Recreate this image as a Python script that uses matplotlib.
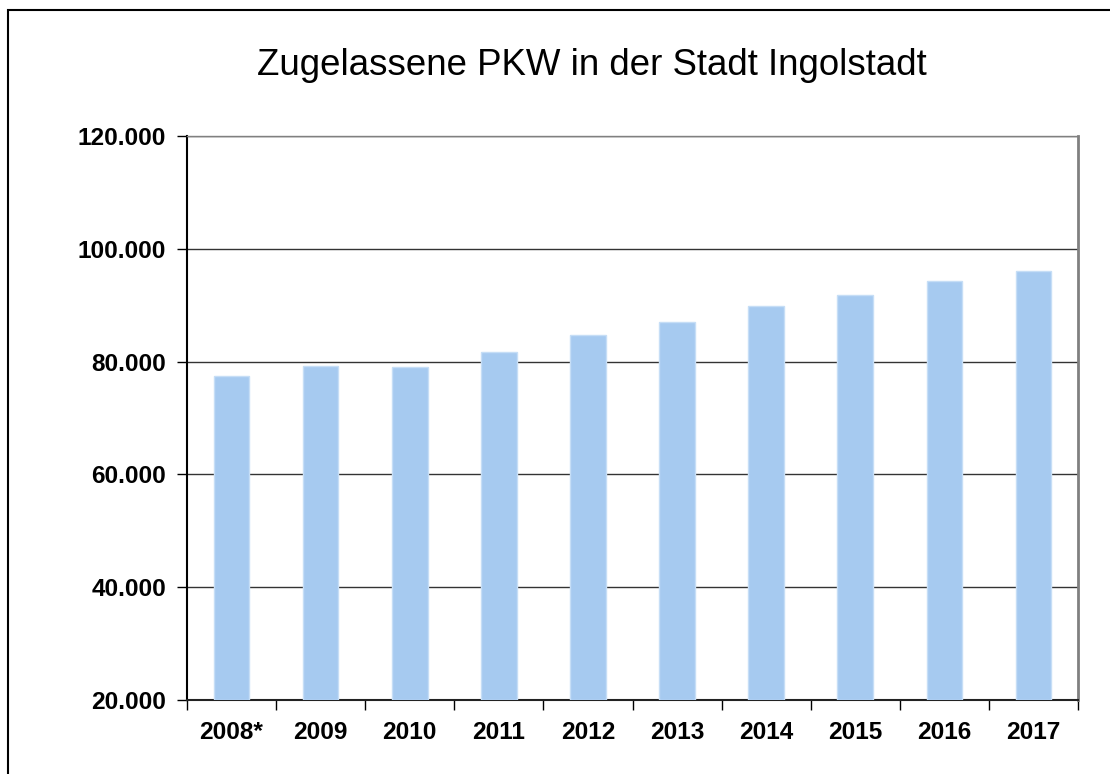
import matplotlib
matplotlib.use("Agg")
import matplotlib.pyplot as plt
from matplotlib.patches import Rectangle
from matplotlib.ticker import FuncFormatter, FixedLocator

plt.rcParams['font.family'] = ['Liberation Sans', 'DejaVu Sans']

years = ["2008*", "2009", "2010", "2011", "2012", "2013", "2014", "2015", "2016", "2017"]
pkw = [77450, 79200, 79100, 81650, 84700, 87000, 89850, 91750, 94250, 96050]
y_ticks = [20000, 40000, 60000, 80000, 100000, 120000]

fig = plt.figure(figsize=(11.1, 7.74), dpi=100)
ax = fig.add_axes([187 / 1110, 1 - 700 / 774, (1078 - 187) / 1110, (700 - 136) / 774])

# outer chart frame (cut off at right and bottom like the original)
fig.patches.append(Rectangle((8 / 1110, -0.1), 1.2, 1 - 10 / 774 + 0.1, transform=fig.transFigure,
                             fill=False, edgecolor="black", linewidth=1.5, zorder=0))

x = list(range(len(years)))
ax.bar(x, [v - 20000 for v in pkw], bottom=20000, width=0.4,
       color="#A6CAF0", edgecolor="#C6DEF6", linewidth=1, zorder=3)

ax.set_xlim(-0.5, len(years) - 0.5)
ax.set_ylim(20000, 120000)

ax.yaxis.set_major_locator(FixedLocator(y_ticks))
ax.yaxis.set_major_formatter(FuncFormatter(lambda v, p: f"{int(v):,}".replace(",", ".")))
ax.grid(axis="y", color="#333333", linewidth=1, zorder=1)

ax.set_xticks(x)
ax.set_xticklabels(years)
ax.set_xticks([i - 0.5 for i in range(len(years) + 1)], minor=True)
ax.tick_params(axis="x", which="major", length=0, pad=15)
ax.tick_params(axis="x", which="minor", length=7, direction="out", color="black", width=1)
ax.tick_params(axis="y", length=7, direction="out", width=1, pad=8)

for lab in ax.get_xticklabels() + ax.get_yticklabels():
    lab.set_fontsize(17.6)
    lab.set_fontweight("bold")

ax.spines["left"].set_color("black")
ax.spines["left"].set_linewidth(1.5)
ax.spines["bottom"].set_color("#222222")
ax.spines["bottom"].set_linewidth(1.5)
ax.spines["top"].set_color("#808080")
ax.spines["top"].set_linewidth(1)
ax.spines["right"].set_color("#808080")
ax.spines["right"].set_linewidth(2)

fig.text(592 / 1110, 1 - 75 / 774, "Zugelassene PKW in der Stadt Ingolstadt",
         fontsize=26.4, ha="center", va="baseline")

fig.savefig("out.png", dpi=100)
